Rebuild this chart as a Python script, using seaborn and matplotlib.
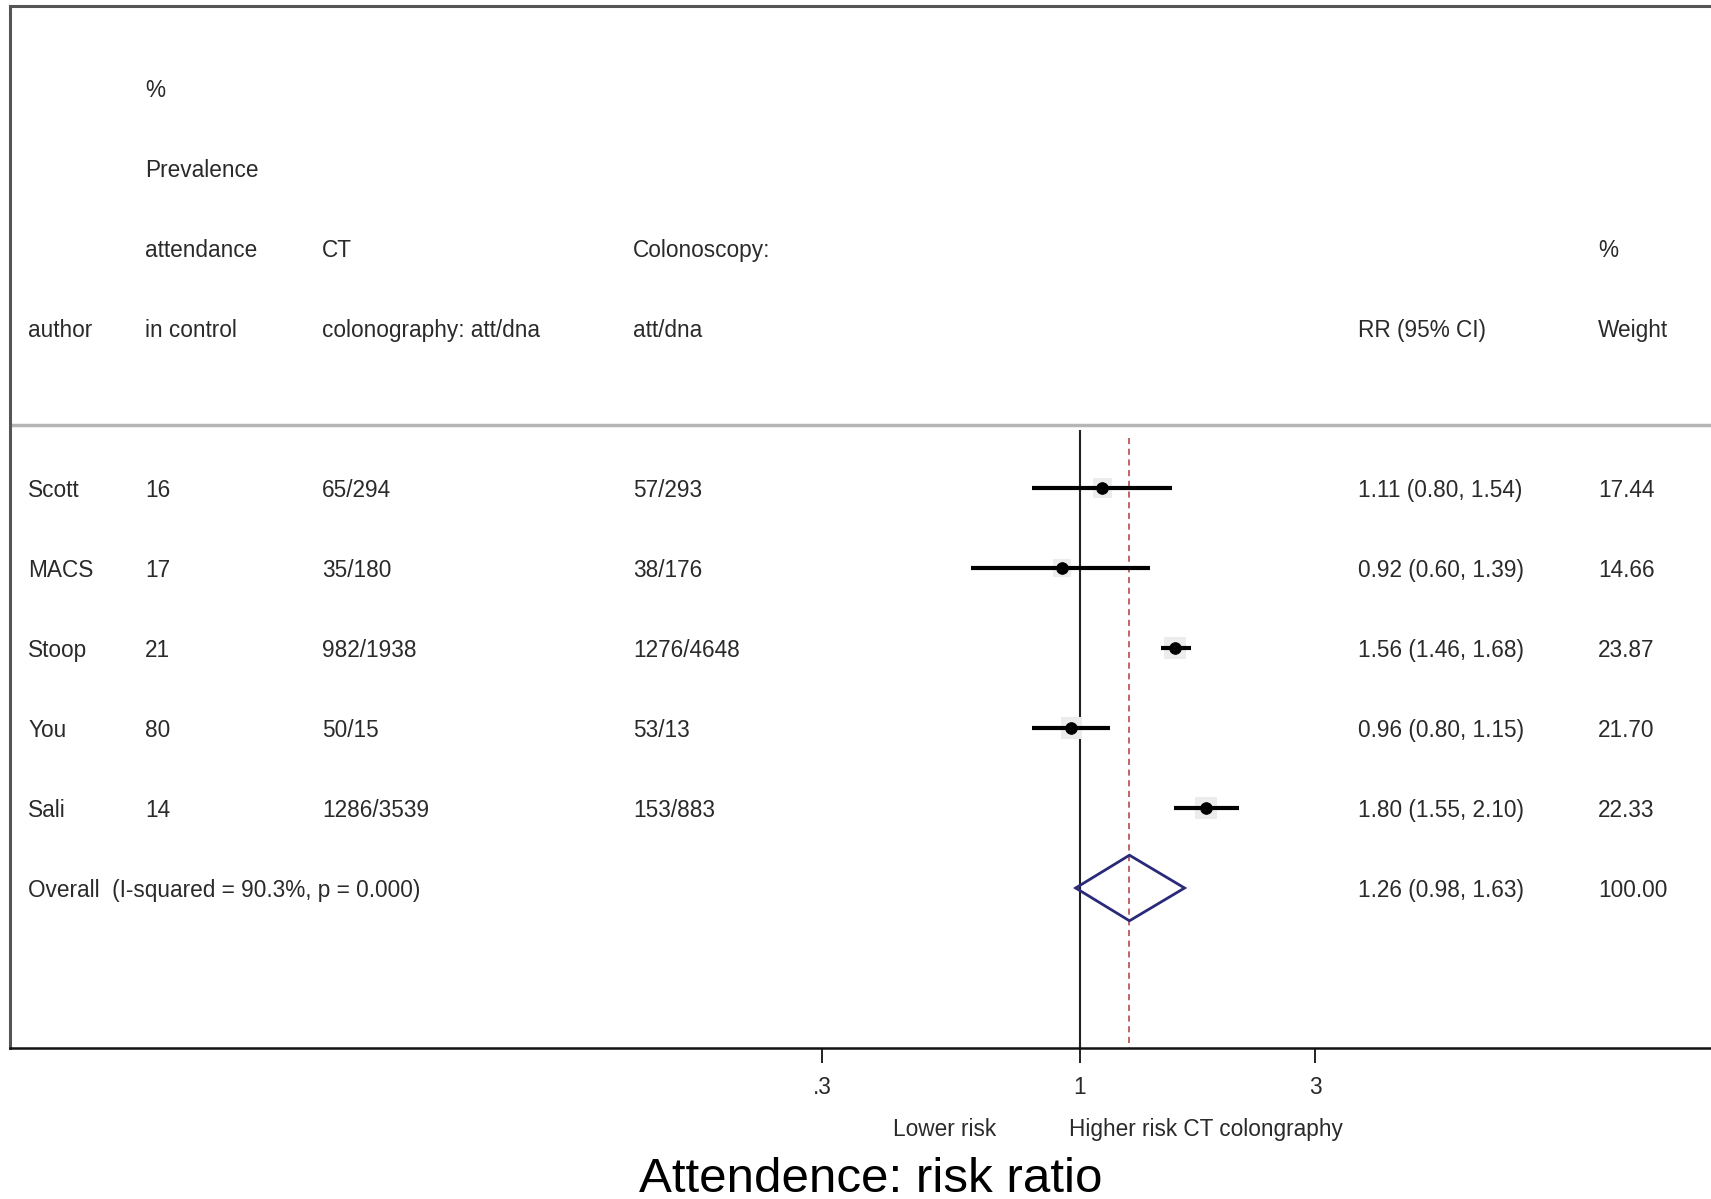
import numpy as np
import pandas as pd
import matplotlib
matplotlib.use("Agg")
import matplotlib.pyplot as plt
import matplotlib.transforms as mtransforms
import seaborn as sns

# ---------------- data ----------------
authors = ["Scott", "MACS", "Stoop", "You", "Sali"]
prevalence = [16, 17, 21, 80, 14]
ct_att_dna = ["65/294", "35/180", "982/1938", "50/15", "1286/3539"]
colo_att_dna = ["57/293", "38/176", "1276/4648", "53/13", "153/883"]
rr = [1.11, 0.92, 1.56, 0.96, 1.80]
rr_lo = [0.80, 0.60, 1.46, 0.80, 1.55]
rr_hi = [1.54, 1.39, 1.68, 1.15, 2.10]
weights = [17.44, 14.66, 23.87, 21.70, 22.33]
overall_rr, overall_lo, overall_hi = 1.26, 0.98, 1.63
overall_weight = 100.00
overall_label = "Overall  (I-squared = 90.3%, p = 0.000)"
tick_values = [0.3, 1, 3]
tick_labels = [".3", "1", "3"]
title = "Attendence: risk ratio"
left_note = "Lower risk"
right_note = "Higher risk CT colongraphy"

# ---------------- style ----------------
sns.set_theme(style="white")
plt.rcParams["font.family"] = ["Liberation Sans", "DejaVu Sans"]
TXT = "#2a2a2a"
FS = 16.3

W, H = 1711, 1199
fig = plt.figure(figsize=(W / 100, H / 100), dpi=100)
fig.patch.set_facecolor("white")

ax_left, ax_right = 10, 1711
ax_top, ax_bot = 6, 1048
ax = fig.add_axes([ax_left / W, 1 - ax_bot / H, (ax_right - ax_left) / W, (ax_bot - ax_top) / H])
ax.set_xscale("log")
x1_px, ppu = 1080, 214.0
ax.set_xlim(np.exp((ax_left - x1_px) / ppu), np.exp((ax_right - x1_px) / ppu))
ax.set_ylim(8.0, -5.025)

rows = np.arange(1, len(authors) + 1)
overall_row = len(authors) + 1

df = pd.DataFrame({"author": authors, "rr": rr, "lo": rr_lo, "hi": rr_hi,
                   "w": weights, "row": rows})

# weight boxes (very faint)
sns.scatterplot(data=df, x="rr", y="row", size="w", sizes=(160, 260), marker="s",
                color="#ececec", edgecolor="none", legend=False, ax=ax, zorder=2)
# CI lines
ax.hlines(df["row"], df["lo"], df["hi"], color="black", lw=3, zorder=3)
# point estimates
sns.scatterplot(data=df, x="rr", y="row", marker="o", s=70, color="black",
                edgecolor="black", legend=False, ax=ax, zorder=4)

# reference lines
ax.vlines(1, 0.28, 8.0, color="#222222", lw=1.5, zorder=1)
ax.vlines(overall_rr, 0.38, 8.0, color="#b03a3a", lw=1.1, linestyles=(0, (4, 3)), zorder=1)

# overall diamond
dh = 0.41
ax.fill([overall_lo, overall_rr, overall_hi, overall_rr, overall_lo],
        [overall_row, overall_row - dh, overall_row, overall_row + dh, overall_row],
        facecolor="none", edgecolor="#2a2a7a", lw=2, zorder=5)

# header separator
ax.axhline(0.2125, color="#b5b5b5", lw=2.5, zorder=1)

# ---------------- text columns ----------------
tr = mtransforms.blended_transform_factory(ax.transAxes, ax.transData)
def colx(px):
    return (px - ax_left) / (ax_right - ax_left)

VA = "center_baseline"
cx_author, cx_prev, cx_ct, cx_colo, cx_rr, cx_w = (colx(28), colx(145), colx(322),
                                                   colx(633), colx(1358), colx(1598))
headers = [
    (cx_prev, -4, "%"), (cx_prev, -3, "Prevalence"), (cx_prev, -2, "attendance"),
    (cx_ct, -2, "CT"), (cx_colo, -2, "Colonoscopy:"), (cx_w, -2, "%"),
    (cx_author, -1, "author"), (cx_prev, -1, "in control"),
    (cx_ct, -1, "colonography: att/dna"), (cx_colo, -1, "att/dna"),
    (cx_rr, -1, "RR (95% CI)"), (cx_w, -1, "Weight"),
]
for x, y, s in headers:
    ax.text(x, y, s, transform=tr, ha="left", va=VA, fontsize=FS, color=TXT)

for i, r in enumerate(rows):
    ax.text(cx_author, r, authors[i], transform=tr, va=VA, fontsize=FS, color=TXT)
    ax.text(cx_prev, r, str(prevalence[i]), transform=tr, va=VA, fontsize=FS, color=TXT)
    ax.text(cx_ct, r, ct_att_dna[i], transform=tr, va=VA, fontsize=FS, color=TXT)
    ax.text(cx_colo, r, colo_att_dna[i], transform=tr, va=VA, fontsize=FS, color=TXT)
    ax.text(cx_rr, r, f"{rr[i]:.2f} ({rr_lo[i]:.2f}, {rr_hi[i]:.2f})", transform=tr,
            va=VA, fontsize=FS, color=TXT)
    ax.text(cx_w, r, f"{weights[i]:.2f}", transform=tr, va=VA, fontsize=FS, color=TXT)

ax.text(cx_author, overall_row, overall_label, transform=tr, va=VA, fontsize=FS, color=TXT)
ax.text(cx_rr, overall_row, f"{overall_rr:.2f} ({overall_lo:.2f}, {overall_hi:.2f})",
        transform=tr, va=VA, fontsize=FS, color=TXT)
ax.text(cx_w, overall_row, f"{overall_weight:.2f}", transform=tr, va=VA,
        fontsize=FS, color=TXT)

# ---------------- axes styling ----------------
ax.set_xticks(tick_values)
ax.set_xticklabels(tick_labels)
ax.xaxis.set_minor_locator(matplotlib.ticker.NullLocator())
ax.set_yticks([])
ax.set_xlabel("")
ax.set_ylabel("")
ax.tick_params(axis="x", direction="out", length=11, width=1.4, color="#222222",
               pad=9, labelsize=FS, labelcolor=TXT, bottom=True)
for side in ["top", "left"]:
    ax.spines[side].set_color("#555555")
    ax.spines[side].set_linewidth(2.2)
ax.spines["bottom"].set_color("#111111")
ax.spines["bottom"].set_linewidth(1.8)
ax.spines["right"].set_visible(False)

trb = mtransforms.blended_transform_factory(ax.transData, ax.transAxes)
note_y = (ax_bot - 1127) / (ax_bot - ax_top)
ax.text(np.exp((996 - x1_px) / ppu), note_y, left_note, transform=trb, ha="right",
        va=VA, fontsize=FS, color=TXT, clip_on=False)
ax.text(np.exp((1069 - x1_px) / ppu), note_y, right_note, transform=trb, ha="left",
        va=VA, fontsize=FS, color=TXT, clip_on=False)

fig.text(871 / W, 7 / H, title, ha="center", va="baseline", fontsize=35.5, color="black")

fig.savefig("out.png", dpi=100, facecolor="white")
